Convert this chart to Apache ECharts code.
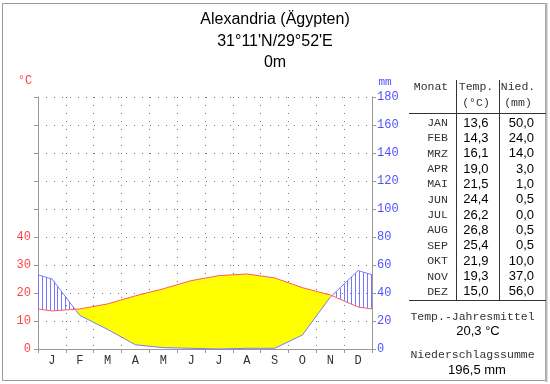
<!DOCTYPE html>
<html>
<head>
<meta charset="utf-8">
<script src="https://cdn.jsdelivr.net/npm/echarts@6/dist/echarts.min.js"></script>
<style>html,body{margin:0;padding:0;background:#fff}#c{width:550px;height:384px}</style>
</head>
<body>
<div id="c"></div>
<script>
const titleLines = ['Alexandria (Ägypten)', "31°11'N/29°52'E", '0m'];
const months = ['J','F','M','A','M','J','J','A','S','O','N','D'];
const tableMonths = ['JAN','FEB','MRZ','APR','MAI','JUN','JUL','AUG','SEP','OKT','NOV','DEZ'];
const temperature = [13.6,14.3,16.1,19.0,21.5,24.4,26.2,26.8,25.4,21.9,19.3,15.0];
const precipitation = [50.0,24.0,14.0,3.0,1.0,0.5,0.0,0.5,0.5,10.0,37.0,56.0];
const tempTicksShown = [0,10,20,30,40];
const mmTicks = [0,20,40,60,80,100,120,140,160,180];

const fmt = v => v.toFixed(1).replace('.', ',');
const meanT = temperature.reduce((a,b)=>a+b,0)/temperature.length;
const sumP = precipitation.reduce((a,b)=>a+b,0);

const RED = '#ff4444', BLUE = '#5050ff', MONO = 'Liberation Mono', SANS = 'Liberation Sans';

function renderClimate(params, api) {
  const n = temperature.length;
  const xs = [0], T = [(temperature[n-1]+temperature[0])/2], P = [(precipitation[n-1]+precipitation[0])/4];
  for (let i=0;i<n;i++){ xs.push(i+0.5); T.push(temperature[i]); P.push(precipitation[i]/2); }
  xs.push(n); T.push(T[0]); P.push(P[0]);
  const pts = [];
  for (let i=0;i<xs.length;i++){
    pts.push({x:xs[i],t:T[i],p:P[i]});
    if (i<xs.length-1){
      const d0=T[i]-P[i], d1=T[i+1]-P[i+1];
      if (d0*d1<0){
        const f=d0/(d0-d1);
        const tv=T[i]+f*(T[i+1]-T[i]);
        pts.push({x:xs[i]+f*(xs[i+1]-xs[i]),t:tv,p:tv});
      }
    }
  }
  const children = [];
  const regions = [];
  let cur = null;
  for (let i=0;i<pts.length-1;i++){
    const a=pts[i], b=pts[i+1];
    const s = ((a.t+b.t)/2 - (a.p+b.p)/2) >= 0 ? 1 : -1;
    if (!cur || cur.s!==s){ cur={s:s,pts:[a]}; regions.push(cur); }
    cur.pts.push(b);
  }
  const interp = (arr, x, key) => {
    for (let i=0;i<arr.length-1;i++){
      if (x>=arr[i].x && x<=arr[i+1].x){
        const f=(x-arr[i].x)/((arr[i+1].x-arr[i].x)||1);
        return arr[i][key]+f*(arr[i+1][key]-arr[i][key]);
      }
    }
    return arr[arr.length-1][key];
  };
  regions.forEach(r=>{
    if (r.s>0){
      const poly = r.pts.map(q=>api.coord([q.x,q.t])).concat(r.pts.slice().reverse().map(q=>api.coord([q.x,q.p])));
      children.push({type:'polygon',shape:{points:poly},style:{fill:'#ffff00',stroke:null}});
    } else {
      const x0=api.coord([r.pts[0].x,0])[0], x1=api.coord([r.pts[r.pts.length-1].x,0])[0];
      const xa=api.coord([0,0])[0], xb=api.coord([1,0])[0], pxPer=xb-xa;
      for (let px=x0; px<=x1+0.01; px+=3.9){
        const xd=(px-xa)/pxPer;
        const yt=api.coord([xd,interp(r.pts,xd,'t')])[1];
        const yp=api.coord([xd,interp(r.pts,xd,'p')])[1];
        const X=Math.round(px)+0.5;
        children.push({type:'line',shape:{x1:X,y1:yp,x2:X,y2:yt},style:{stroke:'#7676ff',lineWidth:1}});
      }
    }
  });
  children.push({type:'polyline',shape:{points:pts.map(q=>api.coord([q.x,q.p]))},style:{stroke:'#7a7aff',lineWidth:1,fill:null}});
  children.push({type:'polyline',shape:{points:pts.map(q=>api.coord([q.x,q.t]))},style:{stroke:'#ff5a5a',lineWidth:1,fill:null}});
  return {type:'group',children:children};
}

const g = [];
g.push({type:'rect',shape:{x:2.5,y:3.5,width:543,height:377},style:{fill:null,stroke:'#9a9a9a',lineWidth:1},silent:true});
g.push({type:'line',shape:{x1:546.5,y1:3,x2:546.5,y2:382},style:{stroke:'#b8b8b8',lineWidth:2}});
titleLines.forEach((t,i)=>g.push({type:'text',x:275,y:[20,42,63][i],style:{text:t,fill:'#000',font:'16px '+SANS,textAlign:'center',textVerticalAlign:'middle'}}));
g.push({type:'text',x:25,y:81,style:{text:'°C',fill:RED,font:'12px '+MONO,textAlign:'center',textVerticalAlign:'middle'}});
g.push({type:'text',x:385,y:82,style:{text:'mm',fill:BLUE,font:'11px '+MONO,textAlign:'center',textVerticalAlign:'middle'}});
const TM = '11.5px '+MONO, TV = '13px '+SANS, TC='#333';
g.push({type:'text',x:431,y:87,style:{text:'Monat',fill:TC,font:TM,textAlign:'center',textVerticalAlign:'middle'}});
g.push({type:'text',x:476,y:87,style:{text:'Temp.',fill:TC,font:TM,textAlign:'center',textVerticalAlign:'middle'}});
g.push({type:'text',x:476,y:103,style:{text:'(°C)',fill:TC,font:TM,textAlign:'center',textVerticalAlign:'middle'}});
g.push({type:'text',x:518,y:87,style:{text:'Nied.',fill:TC,font:TM,textAlign:'center',textVerticalAlign:'middle'}});
g.push({type:'text',x:518,y:103,style:{text:'(mm)',fill:TC,font:TM,textAlign:'center',textVerticalAlign:'middle'}});
g.push({type:'line',shape:{x1:456.5,y1:80,x2:456.5,y2:300},style:{stroke:'#333',lineWidth:1}});
g.push({type:'line',shape:{x1:499.5,y1:80,x2:499.5,y2:300},style:{stroke:'#333',lineWidth:1}});
g.push({type:'line',shape:{x1:409,y1:113.5,x2:546,y2:113.5},style:{stroke:'#333',lineWidth:1}});
g.push({type:'line',shape:{x1:409,y1:300.5,x2:546,y2:300.5},style:{stroke:'#333',lineWidth:1}});
tableMonths.forEach((m,i)=>{
  const y = 123 + i*15.35;
  g.push({type:'text',x:437.5,y:y,style:{text:m,fill:TC,font:TM,textAlign:'center',textVerticalAlign:'middle'}});
  g.push({type:'text',x:488.5,y:y,style:{text:fmt(temperature[i]),fill:'#000',font:TV,textAlign:'right',textVerticalAlign:'middle'}});
  g.push({type:'text',x:534,y:y,style:{text:fmt(precipitation[i]),fill:'#000',font:TV,textAlign:'right',textVerticalAlign:'middle'}});
});
g.push({type:'text',x:472.5,y:317,style:{text:'Temp.-Jahresmittel',fill:TC,font:TM,textAlign:'center',textVerticalAlign:'middle'}});
g.push({type:'text',x:478,y:331,style:{text:fmt(meanT)+' °C',fill:'#000',font:TV,textAlign:'center',textVerticalAlign:'middle'}});
g.push({type:'text',x:472.5,y:355,style:{text:'Niederschlagssumme',fill:TC,font:TM,textAlign:'center',textVerticalAlign:'middle'}});
g.push({type:'text',x:477,y:370,style:{text:fmt(sumP)+' mm',fill:'#000',font:TV,textAlign:'center',textVerticalAlign:'middle'}});

const chart = echarts.init(document.getElementById('c'), null, {renderer:'canvas'});
chart.setOption({
  animation:false,
  backgroundColor:'#fff',
  grid:{left:38,right:178,top:97,bottom:35,containLabel:false},
  xAxis:[
    {type:'category',data:months,boundaryGap:true,
      axisLine:{lineStyle:{color:'#999'}},
      axisTick:{show:true,length:4,interval:0,lineStyle:{color:'#999'}},
      axisLabel:{color:'#333',fontFamily:MONO,fontSize:12,margin:6,interval:0},
      splitLine:{show:true,interval:0,lineStyle:{type:[1,7],color:'#777'}}},
    {type:'value',min:0,max:12,show:false}
  ],
  yAxis:[
    {type:'value',min:0,max:90,interval:10,position:'left',
      axisLine:{show:true,lineStyle:{color:'#999'}},
      axisTick:{show:true,length:4,lineStyle:{color:'#999'}},
      axisLabel:{color:RED,fontFamily:MONO,fontSize:12,margin:7,formatter:v=>tempTicksShown.indexOf(v)>=0?String(v):''},
      splitLine:{show:true,lineStyle:{type:[1,7],color:'#777'}}},
    {type:'value',min:0,max:180,interval:20,position:'right',
      axisLine:{show:true,lineStyle:{color:'#999'}},
      axisTick:{show:true,length:4,lineStyle:{color:'#999'}},
      axisLabel:{color:BLUE,fontFamily:MONO,fontSize:12,margin:5,formatter:v=>mmTicks.indexOf(v)>=0?String(v):''},
      splitLine:{show:false}}
  ],
  series:[{type:'custom',xAxisIndex:1,yAxisIndex:0,data:[[0,0]],renderItem:renderClimate,silent:true,clip:false,z:1}],
  graphic:g
});
</script>
</body>
</html>
